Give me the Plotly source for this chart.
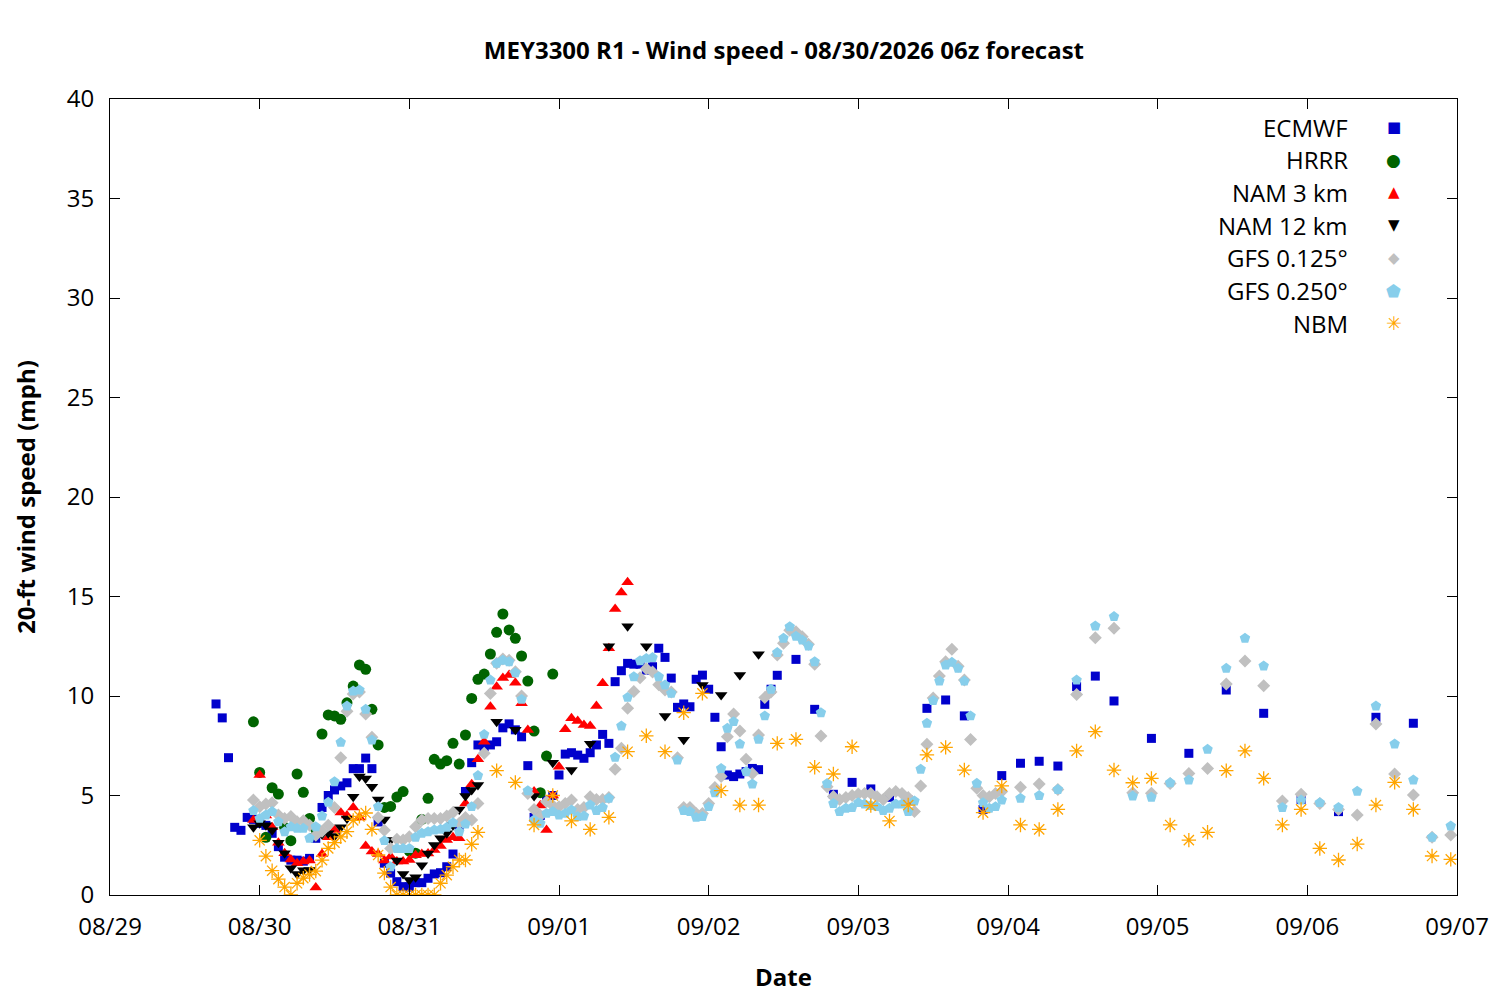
import pandas as pd
import plotly.graph_objects as go

# forecast hours are counted from 08/29 00:00 (local), the axis start
BASE = pd.Timestamp("2026-08-29 00:00")

ecmwf_hours = list(range(17, 108)) + list(range(110, 159, 3)) + list(range(161, 210, 6))
ecmwf = [9.6, 8.9, 6.9, 3.4, 3.25, 3.9, 3.8, 3.6, 3.5, 3.1,
         2.43, 1.9, 1.75, 1.75, 1.7, 1.84, 2.85, 4.4, 5.0, 5.28,
         5.48, 5.64, 6.35, 6.35, 6.88, 6.35, 3.67, 1.6, 1.1, 0.67,
         0.42, 0.4, 0.62, 0.62, 0.84, 1.06, 1.12, 1.42, 2.06, 3.5,
         5.2, 6.65, 7.54, 7.45, 7.54, 7.7, 8.4, 8.6, 8.3, 7.95,
         6.5, 3.9, 4.0, 4.77, 5.0, 6.03, 7.08, 7.15, 7.03, 6.87,
         7.15, 7.54, 8.07, 7.62, 10.72, 11.27, 11.64, 11.6, 11.6, 11.3,
         11.47, 12.4, 11.94, 10.9, 9.43, 9.6, 9.46, 10.84, 11.05, 10.34,
         8.93, 7.45, 6.03, 5.95, 6.08, 6.2, 6.36, 6.3, 9.58, 10.34,
         11.04,
         11.84, 9.33, 5.06, 5.66, 5.33, 4.91, 4.77, 9.38, 9.8, 9.0,
         4.3, 6.0, 6.62, 6.72, 6.48, 10.47, 11.0,
         9.75, 7.87, 7.12, 10.3, 9.13, 4.8, 4.19, 8.93, 8.63]

hrrr_hours = list(range(23, 72))
hrrr = [8.7, 6.16, 2.9, 5.39, 5.07, 3.4, 2.73, 6.08, 5.16, 3.85,
        3.3, 8.09, 9.05, 9.0, 8.83, 9.66, 10.5, 11.56, 11.34, 9.33,
        7.54, 4.4, 4.45, 4.92, 5.2, 2.2, 2.1, 3.8, 4.86, 6.82,
        6.58, 6.75, 7.62, 6.58, 8.04, 9.88, 10.84, 11.1, 12.11, 13.2,
        14.12, 13.32, 12.9, 12.01, 10.75, 8.24, 5.14, 6.98, 11.1]

nam3_hours = list(range(23, 84))
nam3 = [3.77, 6.03, 4.0, 3.4, 2.63, 2.1, 1.79, 1.6, 1.68, 1.73,
        0.38, 2.06, 2.9, 3.27, 4.14, 4.0, 4.4, 3.9, 2.46, 2.18,
        2.06, 1.73, 1.93, 1.68, 1.68, 1.76, 2.0, 2.06, 2.09, 2.26,
        2.46, 2.76, 2.9, 2.85, 4.6, 5.56, 6.82, 7.7, 9.46, 10.47,
        10.9, 11.06, 10.67, 9.63, 8.29, 5.2, 4.5, 3.27, 5.0, 6.45,
        8.33, 8.88, 8.74, 8.54, 8.49, 9.5, 10.64, 12.4, 14.37, 15.2,
        15.71]

nam12_hours = list(range(23, 60)) + list(range(62, 105, 3))
nam12 = [3.4, 3.6, 3.5, 3.25, 2.63, 2.1, 1.35, 1.05, 1.25, 1.26,
         2.95, 3.05, 3.1, 2.96, 3.4, 3.85, 4.94, 5.95, 5.86, 5.44,
         4.8, 3.8, 2.76, 1.73, 1.06, 0.75, 0.89, 1.5, 2.09, 2.51,
         2.85, 3.1, 3.5, 4.3, 4.97, 5.28, 5.53,
         8.71, 8.3, 4.97, 6.65, 6.28, 7.6, 12.5, 13.5, 12.5, 9.0,
         7.8, 10.55, 10.05, 11.05, 12.1]

gfs_hours = list(range(23, 144)) + list(range(146, 216, 3))
gfs125 = [4.77, 4.44, 4.57, 4.64, 4.02, 3.85, 3.94, 3.68, 3.73, 3.5,
          3.0, 3.2, 3.5, 4.4, 6.9, 9.23, 10.1, 10.2, 9.1, 7.93,
          3.9, 3.25, 2.34, 2.8, 2.76, 2.93, 3.43, 3.77, 3.85, 3.85,
          3.85, 3.97, 4.14, 3.6, 3.9, 3.77, 4.6, 7.12, 10.13, 11.64,
          11.86, 11.8, 11.22, 10.0, 5.1, 4.3, 4.0, 4.69, 4.5, 4.44,
          4.6, 4.77, 4.3, 4.4, 4.94, 4.8, 4.8, 4.9, 6.32, 7.37,
          9.38, 10.22, 10.92, 11.37, 11.2, 10.57, 10.3, 10.2, 6.9, 4.4,
          4.4, 4.1, 4.1, 4.6, 5.4, 5.95, 7.95, 9.1, 8.24, 6.82,
          6.11, 8.04, 9.92, 10.2, 12.06, 12.65, 13.3, 13.23, 12.98, 12.6,
          11.6, 7.99, 5.44, 4.95, 4.8, 4.9, 5.0, 5.07, 5.1, 5.1,
          4.94, 4.8, 5.1, 5.2, 5.1, 4.9, 4.19, 5.48, 7.57, 9.9,
          11.0, 11.72, 12.35, 11.5, 10.8, 7.82, 5.36, 5.0, 4.94, 5.1,
          5.2,
          5.41, 5.58, 5.3, 10.08, 12.93, 13.4, 5.14, 5.11, 5.6, 6.11,
          6.36, 10.6, 11.76, 10.52, 4.72, 5.06, 4.6, 4.3, 4.02, 8.59,
          6.08, 5.03, 2.9, 3.02]
gfs250 = [4.24, 3.85, 4.02, 4.19, 3.68, 3.18, 3.43, 3.35, 3.35, 2.85,
          3.43, 3.97, 4.66, 5.69, 7.67, 9.5, 10.25, 10.3, 9.33, 7.79,
          4.44, 2.73, 1.42, 2.34, 2.34, 2.34, 2.9, 3.1, 3.18, 3.27,
          3.3, 3.4, 3.63, 3.18, 3.57, 4.44, 6.0, 8.07, 10.8, 11.64,
          11.8, 11.72, 11.17, 9.83, 5.24, 3.77, 3.6, 4.1, 4.19, 4.02,
          4.1, 4.27, 3.94, 3.97, 4.52, 4.24, 4.4, 4.86, 6.92, 8.49,
          9.93, 10.97, 11.77, 11.89, 11.93, 10.97, 10.55, 10.13, 6.78, 4.24,
          4.19, 3.9, 3.94, 4.44, 5.14, 6.36, 8.38, 8.71, 7.59, 6.2,
          5.58, 7.82, 9.0, 10.34, 12.18, 12.9, 13.48, 13.0, 12.81, 12.51,
          11.72, 9.16, 5.6, 4.6, 4.19, 4.36, 4.4, 4.64, 4.57, 4.5,
          4.44, 4.24, 4.36, 4.57, 4.57, 4.19, 4.72, 6.32, 8.63, 9.77,
          10.75, 11.56, 11.69, 11.39, 10.75, 9.0, 5.61, 4.64, 4.36, 4.44,
          4.77,
          4.86, 5.0, 5.3, 10.8, 13.52, 13.99, 4.97, 4.91, 5.64, 5.78,
          7.32, 11.39, 12.9, 11.51, 4.4, 4.77, 4.64, 4.4, 5.21, 9.5,
          7.59, 5.78, 2.9, 3.47]

nbm_hours = list(range(24, 60)) + list(range(62, 216, 3))
nbm = [2.75, 1.95, 1.22, 0.8, 0.4, 0.0, 0.59, 0.85, 1.03, 1.2,
       1.75, 2.34, 2.63, 2.92, 3.18, 3.75, 3.95, 4.12, 3.3, 2.01,
       1.1, 0.4, 0.0, 0.0, 0.0, 0.0, 0.0, 0.0, 0.0, 0.59,
       1.0, 1.42, 1.76, 1.76, 2.55, 3.15,
       6.25, 5.66, 3.52, 5.0, 3.72, 3.3, 3.9, 7.2, 8.0, 7.2,
       9.16, 10.13, 5.24, 4.52, 4.52, 7.62, 7.82, 6.42, 6.08, 7.45,
       4.49, 3.72, 4.52, 7.04, 7.42, 6.28, 4.14, 5.48, 3.52, 3.3,
       4.3, 7.24, 8.21, 6.28, 5.64, 5.86, 3.52, 2.76, 3.15, 6.25,
       7.24, 5.86, 3.52, 4.3, 2.34, 1.76, 2.56, 4.52, 5.66, 4.3,
       1.96, 1.79]

models = [
    ("ECMWF", ecmwf_hours, ecmwf, "square", 9, "#0000cc"),
    ("HRRR", hrrr_hours, hrrr, "circle", 11, "#006400"),
    ("NAM 3 km", nam3_hours, nam3, "triangle-up", 11, "#ff0000"),
    ("NAM 12 km", nam12_hours, nam12, "triangle-down", 11, "#000000"),
    ("GFS 0.125°", gfs_hours, gfs125, "diamond", 10, "#c0c0c0"),
    ("GFS 0.250°", gfs_hours, gfs250, "pentagon", 11, "#87ceeb"),
    ("NBM", nbm_hours, nbm, "asterisk-open", 12, "#ffa500"),
]
legend_glyphs = ["■", "●", "▲", "▼", "◆", "⬟", "✳"]
legend_sizes = [15, 17, 15, 15, 15, 17, 19]

FONT = "Open Sans"
FS = 24

fig = go.Figure()
for name, hours, vals, symbol, size, color in models:
    times = BASE + pd.to_timedelta(hours, unit="h")
    if symbol == "asterisk-open":
        marker = dict(symbol=symbol, size=size, color=color, line=dict(color=color, width=1.3))
    else:
        marker = dict(symbol=symbol, size=size, color=color, line=dict(width=0))
    fig.add_trace(go.Scatter(x=times, y=vals, mode="markers", name=name,
                             marker=marker, showlegend=False))

# gnuplot-style key: label right-aligned, symbol to its right
for i, (name, _, _, _, _, color) in enumerate(models):
    ypos = 0.9648 - i * 0.0411
    fig.add_annotation(x=0.9206, y=ypos, xref="paper", yref="paper", text=name,
                       showarrow=False, xanchor="right", yanchor="middle",
                       font=dict(family=FONT, size=FS, color="black"))
    fig.add_annotation(x=0.9532, y=ypos, xref="paper", yref="paper", text=legend_glyphs[i],
                       showarrow=False, xanchor="center", yanchor="middle",
                       font=dict(family="DejaVu Sans", size=legend_sizes[i], color=color))

# the page body adds an 8 px offset, so margins are shifted to compensate
fig.update_layout(
    width=1500, height=1000,
    margin=dict(l=102, r=51, t=91, b=113),
    paper_bgcolor="white", plot_bgcolor="white",
    font=dict(family=FONT, size=FS, color="black"),
    title=dict(text="<b>MEY3300 R1 - Wind speed - 08/30/2026 06z forecast</b>",
               x=0.5173, xanchor="center", y=0.957, yanchor="middle",
               font=dict(family=FONT, size=FS)),
    showlegend=False,
)
fig.update_xaxes(
    range=[BASE, BASE + pd.Timedelta(days=9)],
    dtick=86400000, tick0=BASE, tickformat="%m/%d",
    showline=True, linecolor="black", linewidth=1, mirror="ticks",
    ticks="inside", ticklen=10, tickcolor="black", showgrid=False, zeroline=False,
    ticklabelstandoff=10, automargin=False,
    title=dict(text="<b>Date</b>", standoff=28, font=dict(family=FONT, size=FS)),
)
fig.update_yaxes(
    range=[0, 40], dtick=5,
    showline=True, linecolor="black", linewidth=1, mirror="ticks",
    ticks="inside", ticklen=10, tickcolor="black", showgrid=False, zeroline=False,
    ticklabelstandoff=10, automargin=False,
    title=dict(text="<b>20-ft wind speed (mph)</b>", standoff=24, font=dict(family=FONT, size=FS)),
)

fig.write_html("out.html")
